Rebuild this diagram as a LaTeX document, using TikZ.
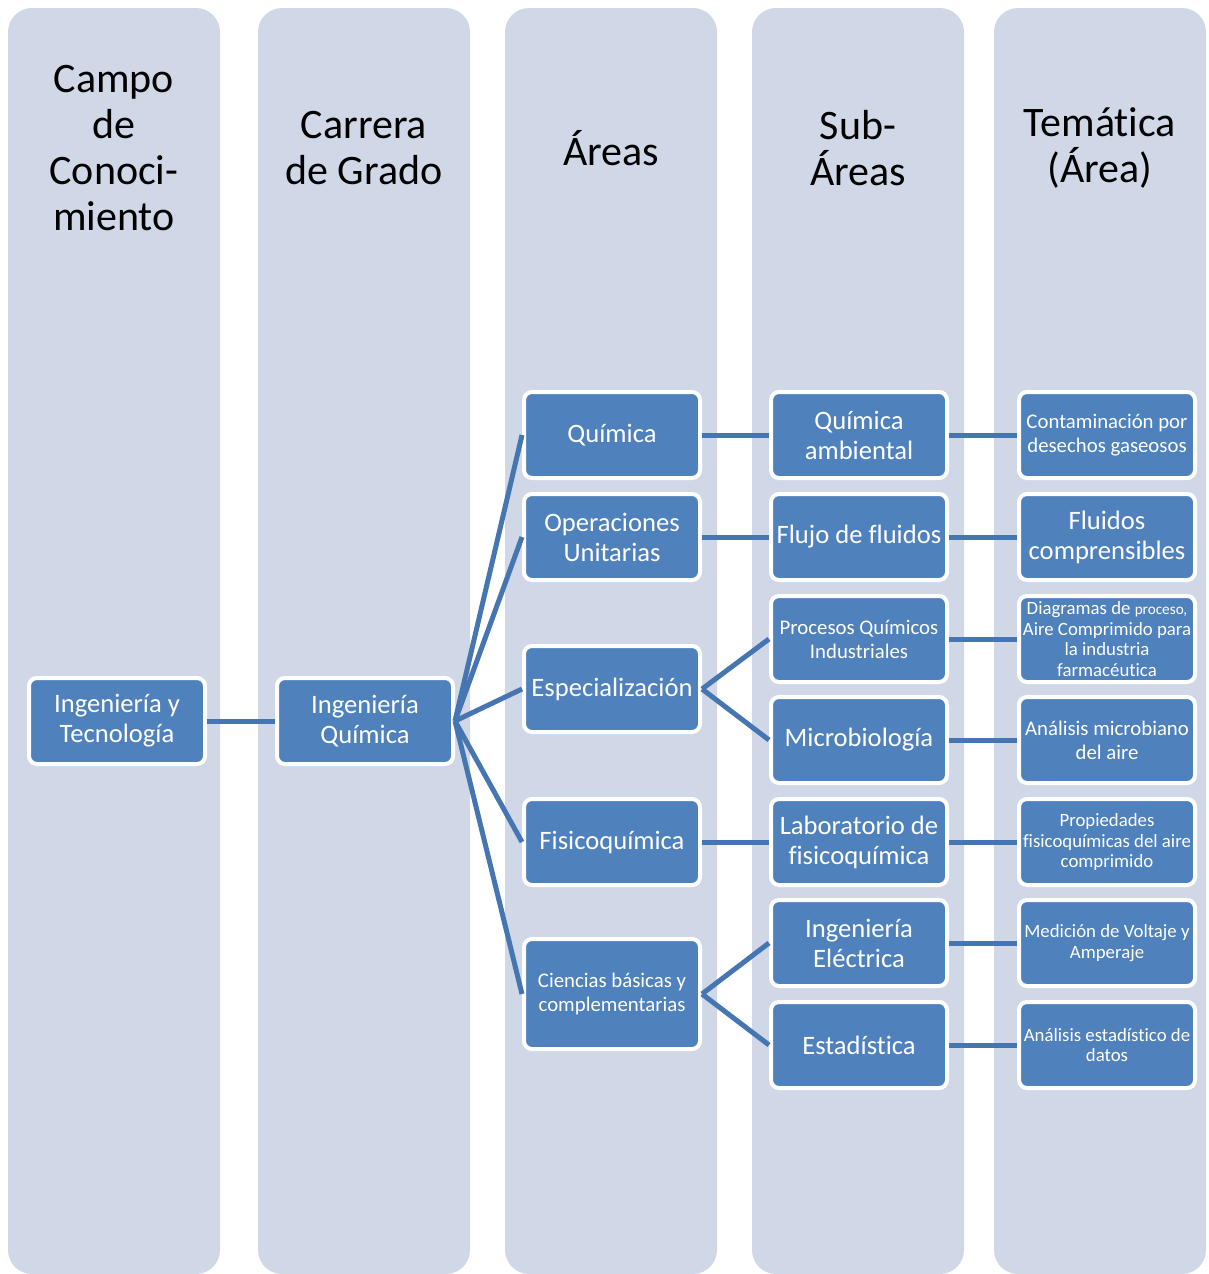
\documentclass[tikz,border=0pt]{standalone}
\usepackage{fontspec}
\setmainfont{Carlito}[Ligatures=NoCommon]
\usetikzlibrary{positioning}
\definecolor{lanefill}{RGB}{208,215,231}
\definecolor{boxfill}{RGB}{79,129,189}
\definecolor{linkcol}{RGB}{70,118,178}
\tikzset{
  lane/.style={fill=lanefill,rounded corners=12pt},
  lanetitle/.style={align=center,font=\fontsize{21}{23}\selectfont},
  box/.style={rectangle,rounded corners=4pt,fill=boxfill,draw=white,line width=2pt,
    text=white,align=center,minimum width=88pt,minimum height=43pt,inner sep=1pt,
    font=\fontsize{13.3}{15}\selectfont},
  small/.style={font=\fontsize{10.4}{12}\selectfont},
  tiny/.style={font=\fontsize{9.4}{10.4}\selectfont},
  link/.style={draw=linkcol,line width=2.5pt},
}

\begin{document}
\begin{tikzpicture}[x=0.5pt,y=-0.5pt,node distance=33.5pt]
    \useasboundingbox (0,0) rectangle (1209,1274);
    % lanes
    \fill[lane] (8,8) rectangle (220,1274);
    \fill[lane] (258,8) rectangle (470,1274);
    \fill[lane] (505,8) rectangle (717,1274);
    \fill[lane] (752,8) rectangle (964,1274);
    \fill[lane] (994,8) rectangle (1206,1274);
    \node[lanetitle] (campo) at (114,148) {Campo\\de\\Conoci-\\miento};
    \node[lanetitle] (carrera) at (364,148) {Carrera\\de Grado};
    \node[lanetitle] (areas) at (611,148) {Áreas};
    \node[lanetitle] (subareas) at (858,148) {Sub-\\Áreas};
    \node[lanetitle] (tematica) at (1100,148) {Temática\\(Área)};
    % boxes
    \node[box] (ingtec) at (117,721) {Ingeniería y\\Tecnología};
    \node[box] (ingquim) at (365,721) {Ingeniería\\Química};
    \node[box] (quim) at (612,435) {Química};
    \node[box] (opunit) at (612,537) {Operaciones\\Unitarias};
    \node[box] (espec) at (612,689) {Especialización};
    \node[box] (fisq) at (612,842) {Fisicoquímica};
    \node[box,small,minimum height=55pt] (cienc) at (612,994) {Ciencias básicas y\\complementarias};
    \node[box,right=of quim] (qamb) {Química\\ambiental};
    \node[box,right=of opunit] (flujo) {Flujo de fluidos};
    \node[box,small,right=of espec,yshift=25pt] (procq) {Procesos Químicos\\Industriales};
    \node[box,right=of espec,yshift=-25.5pt] (micro) {Microbiología};
    \node[box,right=of fisq] (labfq) {Laboratorio de\\fisicoquímica};
    \node[box,right=of cienc,yshift=25.5pt] (ingel) {Ingeniería\\Eléctrica};
    \node[box,right=of cienc,yshift=-25.5pt] (estad) {Estadística};
    \node[box,small,right=34pt of qamb] (contam) {Contaminación por\\desechos gaseosos};
    \node[box,right=34pt of flujo] (fluidc) {Fluidos\\comprensibles};
    \node[box,tiny,right=34pt of procq] (diagr) {Diagramas de {\fontsize{7.6}{10.4}\selectfont proceso,}\\Aire Comprimido para\\la industria\\farmacéutica};
    \node[box,small,right=34pt of micro] (anmic) {Análisis microbiano\\del aire};
    \node[box,tiny,right=34pt of labfq] (propfq) {Propiedades\\fisicoquímicas del aire\\comprimido};
    \node[box,tiny,right=34pt of ingel] (medv) {Medición de Voltaje y\\Amperaje};
    \node[box,tiny,right=34pt of estad] (anest) {Análisis estadístico de\\datos};
    % links
    \draw[link] (ingtec) -- (ingquim);
    \draw[link] (ingquim.east) -- (quim.west);
    \draw[link] (ingquim.east) -- (opunit.west);
    \draw[link] (ingquim.east) -- (espec.west);
    \draw[link] (ingquim.east) -- (fisq.west);
    \draw[link] (ingquim.east) -- (cienc.west);
    \draw[link] (quim) -- (qamb);
    \draw[link] (opunit) -- (flujo);
    \draw[link] (espec.east) -- (procq.west);
    \draw[link] (espec.east) -- (micro.west);
    \draw[link] (fisq) -- (labfq);
    \draw[link] (cienc.east) -- (ingel.west);
    \draw[link] (cienc.east) -- (estad.west);
    \draw[link] (qamb) -- (contam);
    \draw[link] (flujo) -- (fluidc);
    \draw[link] (procq) -- (diagr);
    \draw[link] (micro) -- (anmic);
    \draw[link] (labfq) -- (propfq);
    \draw[link] (ingel) -- (medv);
    \draw[link] (estad) -- (anest);
\end{tikzpicture}
\end{document}
